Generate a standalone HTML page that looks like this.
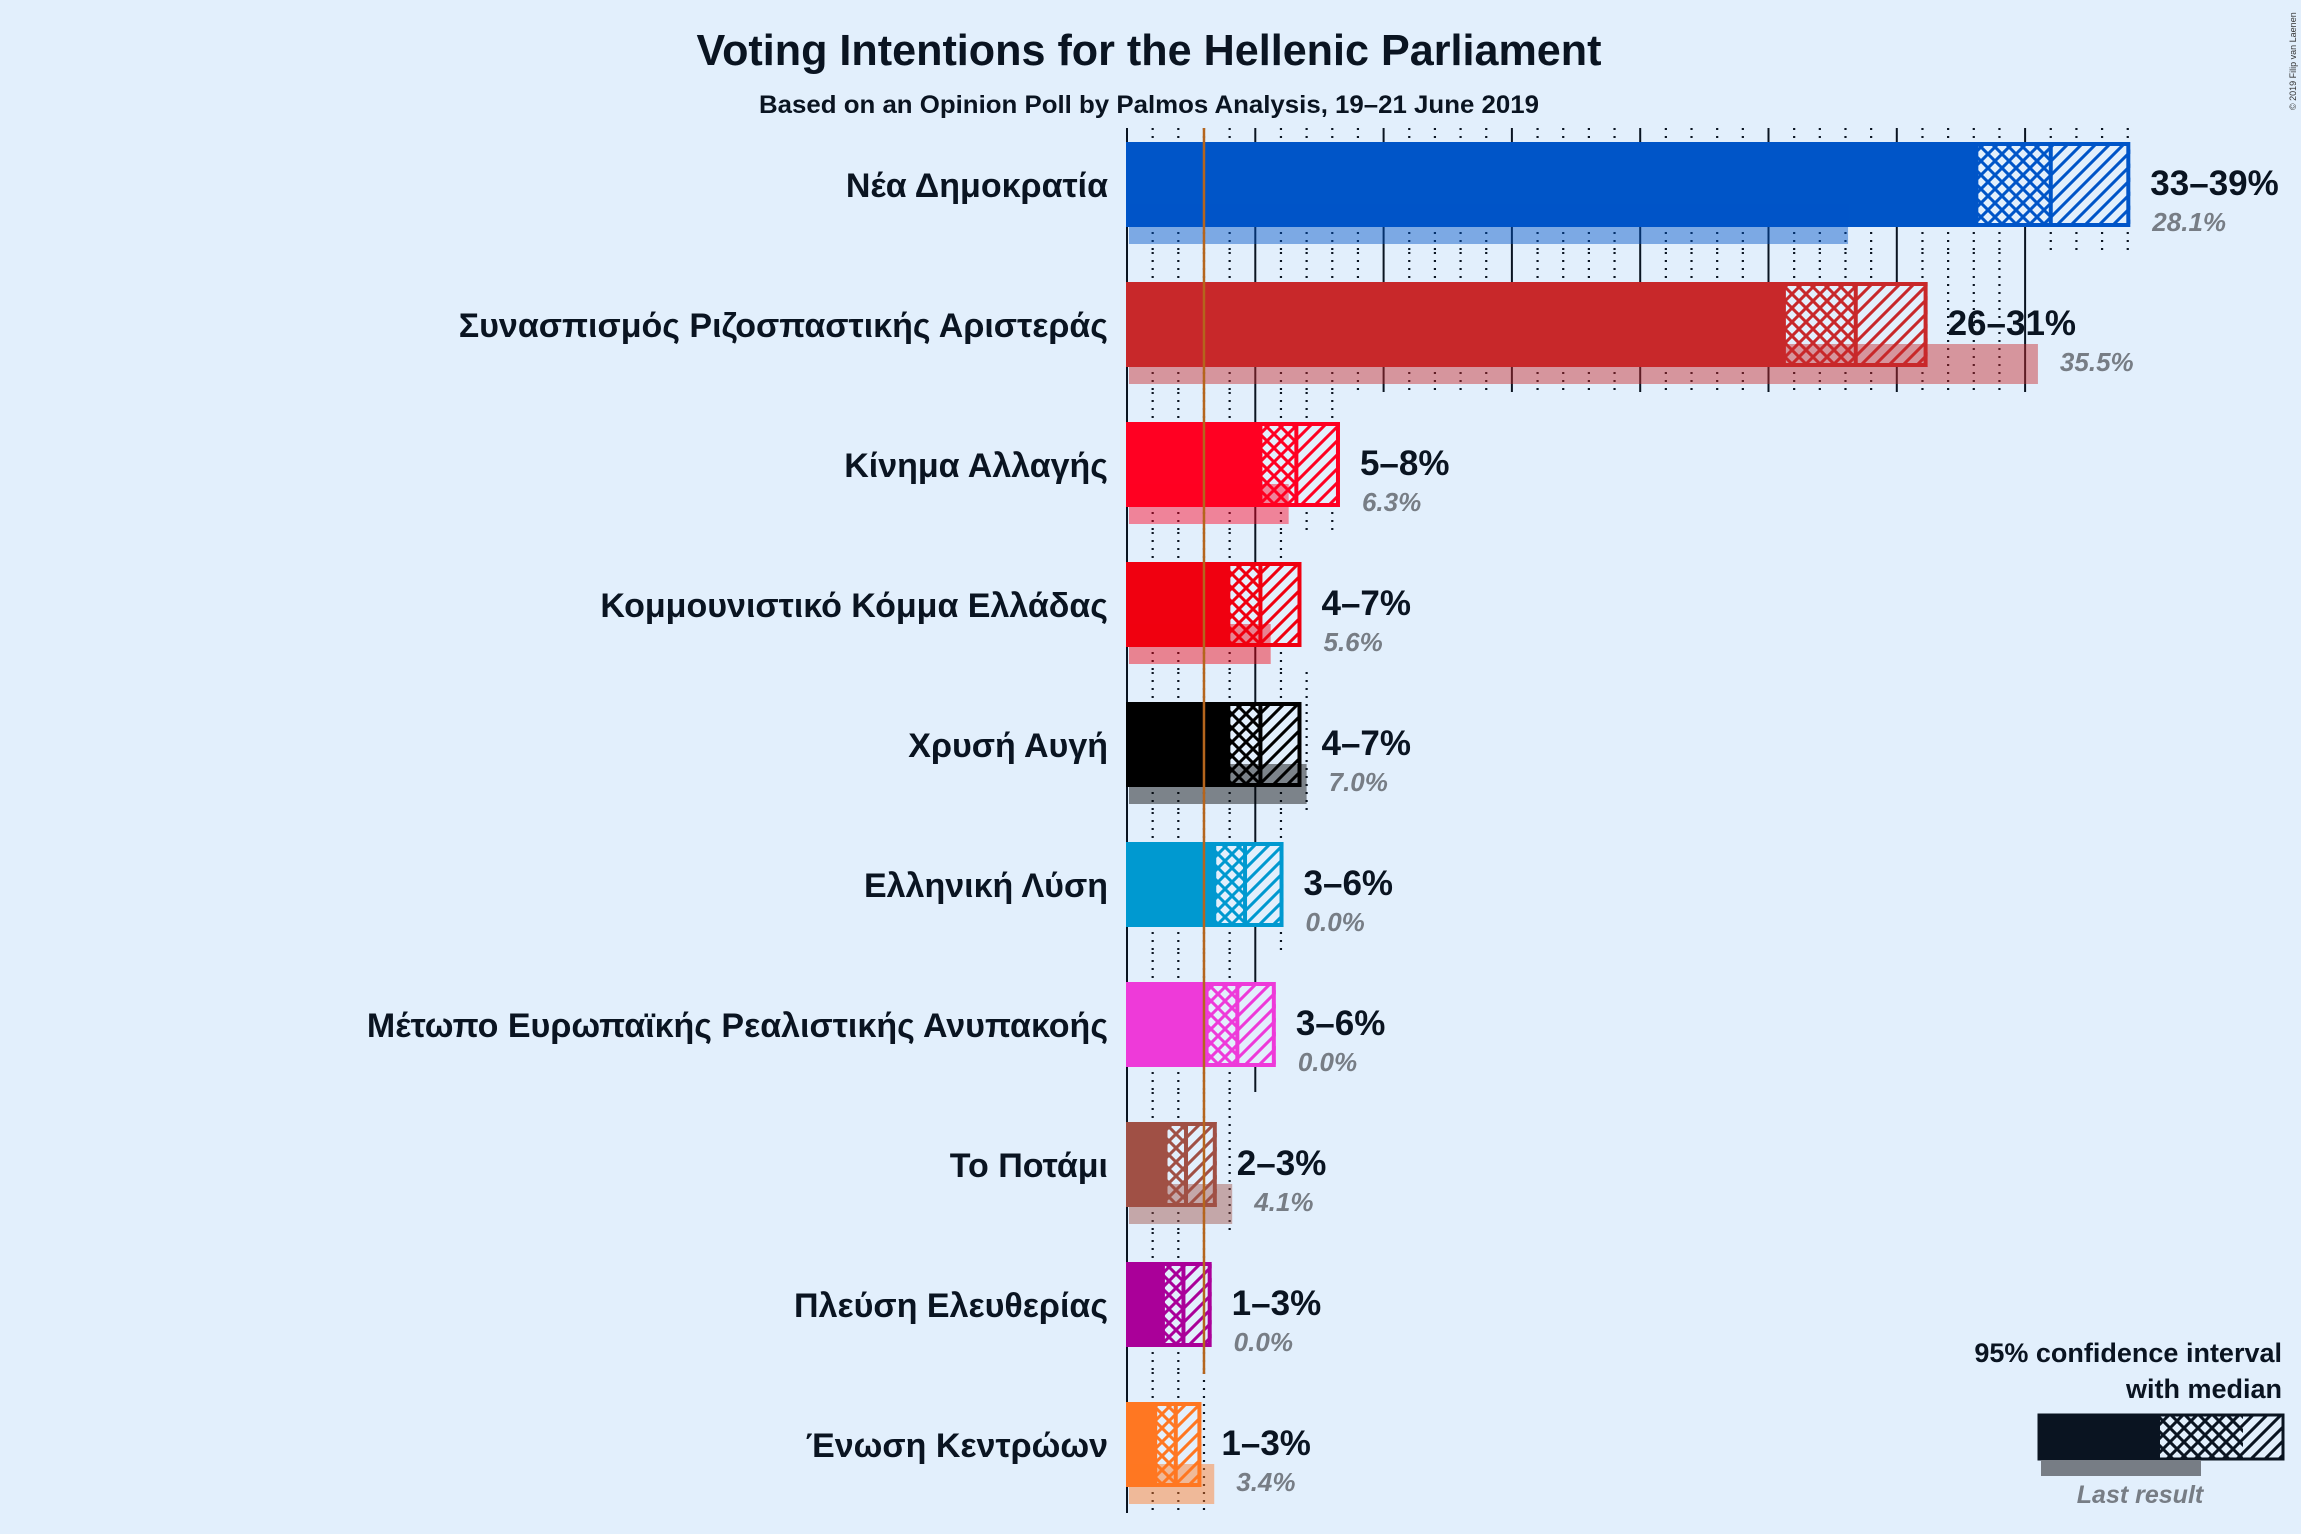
<!DOCTYPE html>
<html><head><meta charset="utf-8"><style>
html,body{margin:0;padding:0;background:#e2effc;}
svg{display:block;font-family:"Liberation Sans","DejaVu Sans",sans-serif;}
</style></head><body>
<svg id="chart" width="2301" height="1534" viewBox="0 0 2301 1534" xmlns="http://www.w3.org/2000/svg">
<rect width="2301" height="1534" fill="#e2effc"/>
<defs id="defs"></defs>
<text x="1149" y="65" text-anchor="middle" font-size="44" font-weight="bold" fill="#0a1421" textLength="905" lengthAdjust="spacingAndGlyphs">Voting Intentions for the Hellenic Parliament</text>
<text x="1149" y="113" text-anchor="middle" font-size="25" font-weight="bold" fill="#0a1421" textLength="780" lengthAdjust="spacingAndGlyphs">Based on an Opinion Poll by Palmos Analysis, 19–21 June 2019</text>
<text transform="translate(2296,110) rotate(-90)" font-size="9" fill="#333">© 2019 Filip van Laenen</text>
<g id="grid"></g>
<g id="bars"></g>
<g id="legend">
  <text x="2282" y="1362" text-anchor="end" font-size="27" font-weight="bold" fill="#0a1421">95% confidence interval</text>
  <text x="2282" y="1398" text-anchor="end" font-size="27" font-weight="bold" fill="#0a1421">with median</text>
  <rect x="2039" y="1415" width="121" height="44" fill="#0a1421"/>
  <rect x="2160" y="1415" width="83" height="44" fill="url(#cross-0a1421)"/>
  <rect x="2243" y="1415" width="40" height="44" fill="url(#hatch-0a1421)"/>
  <rect x="2039" y="1415" width="244" height="44" fill="none" stroke="#0a1421" stroke-width="3"/>
  <rect x="2041" y="1460" width="160" height="16" fill="#777d85"/>
  <text x="2140" y="1503" text-anchor="middle" font-size="25" font-weight="bold" font-style="italic" fill="#777d85">Last result</text>
</g>
</svg>
<script>
const parties = ["Νέα Δημοκρατία","Συνασπισμός Ριζοσπαστικής Αριστεράς","Κίνημα Αλλαγής","Κομμουνιστικό Κόμμα Ελλάδας","Χρυσή Αυγή","Ελληνική Λύση","Μέτωπο Ευρωπαϊκής Ρεαλιστικής Ανυπακοής","Το Ποτάμι","Πλεύση Ελευθερίας","Ένωση Κεντρώων"];
const lows = [33.1,25.6,5.2,3.95,3.95,3.4,3.1,1.5,1.4,1.1];
const medians = [36.0,28.4,6.6,5.2,5.2,4.6,4.3,2.3,2.2,1.9];
const highs = [39.1,31.2,8.3,6.8,6.8,6.1,5.8,3.5,3.3,2.9];
const lastResults = [28.1,35.5,6.3,5.6,7.0,0.0,0.0,4.1,0.0,3.4];
const rangeLabels = ["33–39%","26–31%","5–8%","4–7%","4–7%","3–6%","3–6%","2–3%","1–3%","1–3%"];
const lastLabels = ["28.1%","35.5%","6.3%","5.6%","7.0%","0.0%","0.0%","4.1%","0.0%","3.4%"];
const colors = ["#0055c8","#c8282a","#ff0022","#f00010","#000000","#0099d0","#ee3ad9","#a05045","#aa0099","#ff7722"];
const threshold = 3;

const NS="http://www.w3.org/2000/svg";
const X0=1127, PX=25.66, ROW0=142, ROWH=140, BARH=85;
const x = v => X0 + v*PX;
const rowY = i => ROW0 + i*ROWH;
function mk(tag, attrs, parent){const e=document.createElementNS(NS,tag);for(const k in attrs)e.setAttribute(k,attrs[k]);parent.appendChild(e);return e;}
const defs=document.getElementById('defs'), grid=document.getElementById('grid'), bars=document.getElementById('bars');

function makePatterns(c){
  const id=c.replace('#','');
  if(document.getElementById('cross-'+id))return id;
  const p1=mk('pattern',{id:'cross-'+id,patternUnits:'userSpaceOnUse',width:14,height:14},defs);
  mk('rect',{width:14,height:14,fill:'#e2effc'},p1);
  mk('path',{d:'M0,0L14,14M14,0L0,14M-7,7L0,14M7,-7L0,0M7,21L14,14M21,7L14,0',stroke:c,'stroke-width':3},p1);
  const p2=mk('pattern',{id:'hatch-'+id,patternUnits:'userSpaceOnUse',width:14,height:14},defs);
  mk('rect',{width:14,height:14,fill:'#e2effc'},p2);
  mk('path',{d:'M-3.5,3.5L3.5,-3.5M0,14L14,0M10.5,17.5L17.5,10.5',stroke:c,'stroke-width':3},p2);
  return id;
}
makePatterns('#0a1421');

parties.forEach((name,i)=>{
  const y=rowY(i);
  const maxV=Math.floor(Math.max(highs[i],lastResults[i]));
  const top = i===0 ? y-14 : y-30;
  for(let v=1; v<=maxV; v++){
    const ln=mk('line',{x1:x(v),x2:x(v),y1:top,y2:y+110,stroke:'#0a1421','stroke-width':v%5===0?2:2.2,'stroke-dasharray':v%5===0?'none':'2,6'},grid);
    
    
  }
});
const axis=mk('line',{x1:x(0),x2:x(0),y1:rowY(0)-14,y2:rowY(9)+111,stroke:'#0a1421','stroke-width':2},grid);



parties.forEach((name,i)=>{
  const y=rowY(i), c=colors[i], id=makePatterns(c);
  const g=mk('g',{},bars);
  
  
  const lbl=mk('text',{x:1108,y:y+55,'text-anchor':'end','font-size':34,'font-weight':'bold',fill:'#0a1421'},g);
  lbl.textContent=name;
  
  
  const solid=mk('rect',{x:x(0)-1,y:y,width:x(lows[i])-x(0)+1,height:BARH,fill:c},g);
  
  
  const cr=mk('rect',{x:x(lows[i]),y:y,width:x(medians[i])-x(lows[i]),height:BARH,fill:'url(#cross-'+id+')'},g);
  
  
  const hh=mk('rect',{x:x(medians[i]),y:y,width:x(highs[i])-x(medians[i]),height:BARH,fill:'url(#hatch-'+id+')'},g);
  
  
  const ol=mk('rect',{x:x(lows[i]),y:y+2,width:x(highs[i])-x(lows[i])-2,height:BARH-4,fill:'none',stroke:c,'stroke-width':4},g);
  
  
  const md=mk('line',{x1:x(medians[i]),x2:x(medians[i]),y1:y,y2:y+BARH,stroke:c,'stroke-width':4},g);
  
  
  if(lastResults[i]>0){
    const lr=mk('rect',{x:x(0)+2,y:y+62,width:x(lastResults[i])-x(0)-2,height:40,fill:c,opacity:0.45},g);
    
    
  }
  const rl=mk('text',{x:x(highs[i])+20,y:y+53,'font-size':35,'font-weight':'bold',fill:'#0a1421'},g);
  rl.textContent=rangeLabels[i];
  
  
  const ll=mk('text',{x:Math.max(x(highs[i]),x(lastResults[i]))+22,y:y+89,'font-size':26,'font-weight':'bold','font-style':'italic',fill:'#777d85'},g);
  ll.textContent=lastLabels[i];
  
  
});
const th=mk('line',{x1:x(threshold),x2:x(threshold),y1:rowY(0)-14,y2:rowY(8)+112,stroke:'#b5651d','stroke-width':2.5},bars);


</script>
</body></html>
